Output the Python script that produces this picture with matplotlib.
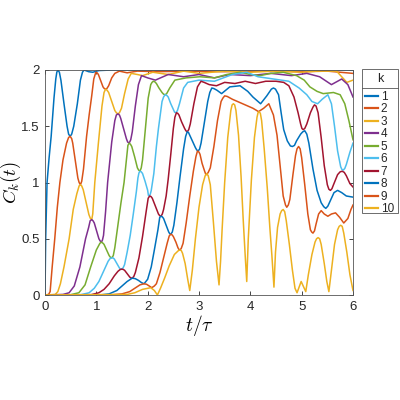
import matplotlib
matplotlib.use("Agg")
import matplotlib.pyplot as plt
from matplotlib.lines import Line2D
from matplotlib.patches import Rectangle

plt.rcParams["font.family"] = ["Liberation Sans", "DejaVu Sans"]
plt.rcParams["mathtext.fontset"] = "cm"

# values (t in units of tau)
t1 = [0, 0.013, 0.04, 0.08, 0.12, 0.175, 0.21, 0.25, 0.31, 0.37, 0.43, 0.49, 0.56, 0.63, 0.69, 0.76,
      0.85, 0.93, 1.05, 1.3, 2.0, 3.0, 4.0, 5.0, 6.0]
c1 = [0, 0.5, 1.0, 1.22, 1.41, 1.75, 1.92, 2.0, 1.91, 1.70, 1.50, 1.41, 1.50, 1.70, 1.91, 2.0,
      1.985, 1.98, 1.995, 2.0, 2.0, 2.0, 2.0, 2.0, 2.0]

t2 = [0, 0.07, 0.10, 0.14, 0.19, 0.24, 0.29, 0.35, 0.42, 0.49, 0.54, 0.59, 0.64, 0.69, 0.75, 0.81,
      0.86, 0.91, 0.95, 0.99, 1.04, 1.085, 1.13, 1.18, 1.24, 1.30, 1.36, 1.45, 1.6, 1.8, 2.2, 2.8,
      3.5, 4.2, 5.0, 5.5, 6.0]
c2 = [0, 0.005, 0.03, 0.25, 0.5, 0.78, 1.0, 1.2, 1.35, 1.41, 1.35, 1.195, 1.04, 0.98, 1.12, 1.41,
      1.60, 1.77, 1.92, 1.98, 1.96, 1.905, 1.85, 1.83, 1.86, 1.93, 1.97, 1.99, 1.975, 1.99, 1.985, 1.99,
      1.985, 1.99, 1.985, 1.99, 1.97]

t3 = [0, 0.2, 0.25, 0.30, 0.37, 0.47, 0.55, 0.62, 0.69, 0.745, 0.80, 0.855, 0.91, 0.93, 0.97, 1.04,
      1.11, 1.18, 1.24, 1.30, 1.36, 1.42, 1.49, 1.55, 1.62, 1.68, 1.8, 1.9, 2.1, 2.4, 2.7, 3.0,
      3.5, 4.0, 4.5, 5.0, 5.3, 5.5, 5.68, 5.78, 5.88, 6.0]
c3 = [0, 0.005, 0.03, 0.1, 0.25, 0.5, 0.76, 0.9, 0.98, 0.935, 0.825, 0.715, 0.67, 0.72, 1.0, 1.35,
      1.68, 1.83, 1.80, 1.72, 1.64, 1.61, 1.66, 1.79, 1.92, 1.97, 1.96, 1.95, 1.98, 1.96, 1.99, 1.97,
      1.99, 1.98, 1.99, 1.98, 1.99, 1.99, 1.99, 1.94, 1.89, 1.91]

t4 = [0, 0.35, 0.47, 0.57, 0.68, 0.79, 0.85, 0.91, 0.96, 1.005, 1.05, 1.10, 1.14, 1.18, 1.22, 1.30,
      1.36, 1.42, 1.475, 1.53, 1.585, 1.64, 1.70, 1.76, 1.82, 1.88, 2.0, 2.15, 2.4, 2.7, 3.0, 3.3,
      3.6, 4.0, 4.4, 4.8, 5.1, 5.35, 5.58, 5.78, 5.9, 6.0]
c4 = [0, 0.005, 0.02, 0.08, 0.25, 0.5, 0.6, 0.67, 0.64, 0.57, 0.50, 0.47, 0.53, 0.74, 1.0, 1.36,
      1.55, 1.61, 1.57, 1.48, 1.39, 1.35, 1.45, 1.68, 1.87, 1.95, 1.93, 1.91, 1.96, 1.94, 1.96, 1.93,
      1.96, 1.95, 1.97, 1.95, 1.97, 1.94, 1.87, 1.92, 1.87, 1.76]

t5 = [0, 0.5, 0.66, 0.78, 0.89, 1.0, 1.10, 1.15, 1.20, 1.25, 1.30, 1.36, 1.42, 1.48, 1.54, 1.59,
      1.64, 1.69, 1.745, 1.80, 1.85, 1.90, 1.95, 2.01, 2.06, 2.11, 2.17, 2.22, 2.28, 2.34, 2.43, 2.53,
      2.75, 3.02, 3.3, 3.54, 3.80, 4.0, 4.19, 4.4, 4.64, 4.90, 5.05, 5.16, 5.30, 5.42, 5.62, 5.75,
      5.84, 5.92, 6.0]
c5 = [0, 0.003, 0.02, 0.09, 0.25, 0.40, 0.47, 0.45, 0.40, 0.35, 0.33, 0.42, 0.62, 0.82, 1.0, 1.22,
      1.35, 1.32, 1.23, 1.13, 1.10, 1.20, 1.45, 1.75, 1.87, 1.90, 1.88, 1.84, 1.80, 1.78, 1.84, 1.91,
      1.93, 1.94, 1.93, 1.96, 1.98, 1.96, 1.95, 1.97, 1.98, 1.95, 1.91, 1.85, 1.81, 1.79, 1.80, 1.78,
      1.70, 1.55, 1.38]

t6 = [0, 0.7, 0.86, 0.96, 1.05, 1.15, 1.23, 1.30, 1.35, 1.40, 1.45, 1.49, 1.55, 1.60, 1.66, 1.72,
      1.78, 1.81, 1.85, 1.90, 1.95, 2.00, 2.03, 2.07, 2.12, 2.17, 2.21, 2.28, 2.34, 2.40, 2.45, 2.50,
      2.55, 2.62, 2.70, 2.78, 3.0, 3.3, 3.65, 3.93, 4.15, 4.45, 4.75, 4.95, 5.10, 5.20, 5.31, 5.40,
      5.51, 5.58, 5.64, 5.70, 5.76, 5.81, 5.87, 5.94, 6.0]
c6 = [0, 0.003, 0.02, 0.06, 0.12, 0.22, 0.30, 0.33, 0.32, 0.28, 0.24, 0.23, 0.27, 0.38, 0.53, 0.72,
      0.92, 1.04, 1.10, 1.08, 1.01, 0.93, 0.88, 0.93, 1.08, 1.32, 1.48, 1.72, 1.78, 1.76, 1.70, 1.65,
      1.62, 1.70, 1.84, 1.89, 1.91, 1.90, 1.96, 1.98, 1.94, 1.92, 1.90, 1.84, 1.78, 1.72, 1.70, 1.74,
      1.78, 1.70, 1.50, 1.28, 1.14, 1.11, 1.16, 1.27, 1.35]

t7 = [0, 0.9, 1.05, 1.15, 1.25, 1.35, 1.42, 1.49, 1.55, 1.60, 1.65, 1.70, 1.76, 1.83, 1.90, 1.97,
      2.04, 2.09, 2.15, 2.21, 2.26, 2.31, 2.36, 2.40, 2.45, 2.50, 2.56, 2.61, 2.66, 2.72, 2.77, 2.83,
      2.90, 2.97, 3.04, 3.2, 3.34, 3.5, 3.7, 3.9, 4.1, 4.3, 4.5, 4.65, 4.75, 4.85, 4.93, 4.98,
      5.03, 5.10, 5.17, 5.25, 5.32, 5.38, 5.44, 5.50, 5.56, 5.62, 5.70, 5.79, 5.87, 5.94, 6.0]
c7 = [0, 0.003, 0.02, 0.05, 0.10, 0.17, 0.21, 0.23, 0.22, 0.19, 0.16, 0.15, 0.20, 0.33, 0.52, 0.74,
      0.88, 0.86, 0.79, 0.72, 0.70, 0.76, 0.88, 1.03, 1.25, 1.48, 1.62, 1.60, 1.54, 1.48, 1.45, 1.52,
      1.70, 1.85, 1.90, 1.87, 1.86, 1.89, 1.88, 1.90, 1.88, 1.90, 1.90, 1.89, 1.86, 1.76, 1.62, 1.52,
      1.47, 1.52, 1.62, 1.69, 1.62, 1.40, 1.15, 0.98, 0.93, 0.98, 1.07, 1.10, 1.06, 0.99, 0.96]

t8 = [0, 1.1, 1.25, 1.4, 1.5, 1.6, 1.70, 1.76, 1.82, 1.88, 1.93, 2.00, 2.07, 2.13, 2.20, 2.26,
      2.31, 2.36, 2.41, 2.45, 2.51, 2.57, 2.63, 2.70, 2.77, 2.82, 2.87, 2.93, 2.98, 3.04, 3.10, 3.17,
      3.25, 3.35, 3.44, 3.52, 3.60, 3.8, 3.95, 4.05, 4.20, 4.32, 4.45, 4.55, 4.60, 4.65, 4.72, 4.82,
      4.90, 4.98, 5.06, 5.14, 5.22, 5.30, 5.38, 5.47, 5.55, 5.63, 5.70, 5.78, 5.87, 6.0]
c8 = [0, 0.002, 0.01, 0.04, 0.08, 0.12, 0.15, 0.145, 0.13, 0.11, 0.10, 0.14, 0.25, 0.40, 0.58, 0.70,
      0.68, 0.62, 0.56, 0.54, 0.62, 0.82, 1.05, 1.30, 1.45, 1.42, 1.37, 1.31, 1.28, 1.35, 1.52, 1.72,
      1.84, 1.82, 1.79, 1.82, 1.85, 1.86, 1.81, 1.76, 1.70, 1.77, 1.84, 1.78, 1.62, 1.47, 1.37, 1.32,
      1.37, 1.43, 1.46, 1.35, 1.12, 0.93, 0.82, 0.77, 0.83, 0.91, 0.93, 0.91, 0.88, 0.87]

t9 = [0, 1.3, 1.5, 1.65, 1.75, 1.85, 1.93, 1.98, 2.03, 2.08, 2.13, 2.17, 2.24, 2.31, 2.38, 2.45,
      2.50, 2.55, 2.59, 2.63, 2.69, 2.75, 2.82, 2.89, 2.97, 3.02, 3.06, 3.11, 3.15, 3.22, 3.29, 3.36,
      3.43, 3.50, 3.65, 3.80, 3.95, 4.05, 4.16, 4.26, 4.36, 4.45, 4.52, 4.58, 4.64, 4.71, 4.77, 4.83,
      4.88, 4.94, 5.00, 5.06, 5.12, 5.17, 5.22, 5.28, 5.33, 5.38, 5.44, 5.51, 5.58, 5.66, 5.74, 5.82,
      5.90, 5.96, 6.0]
c9 = [0, 0.002, 0.01, 0.03, 0.06, 0.09, 0.10, 0.095, 0.08, 0.065, 0.08, 0.10, 0.20, 0.33, 0.46, 0.54,
      0.52, 0.47, 0.42, 0.40, 0.46, 0.64, 0.88, 1.10, 1.28, 1.25, 1.17, 1.10, 1.07, 1.13, 1.32, 1.55,
      1.72, 1.77, 1.74, 1.71, 1.68, 1.66, 1.63, 1.66, 1.70, 1.60, 1.42, 1.15, 0.88, 0.78, 0.85, 1.07,
      1.24, 1.32, 1.22, 0.98, 0.72, 0.58, 0.55, 0.63, 0.72, 0.75, 0.72, 0.70, 0.72, 0.73, 0.69, 0.64,
      0.68, 0.76, 0.80]

t10 = [0, 1.6, 1.75, 1.9, 2.06, 2.13, 2.19, 2.25, 2.33, 2.42, 2.52, 2.63, 2.68, 2.73, 2.78, 2.82,
       2.87, 2.93, 3.00, 3.07, 3.15, 3.22, 3.28, 3.34, 3.39, 3.42, 3.45, 3.50, 3.56, 3.62, 3.67, 3.72,
       3.77, 3.82, 3.86, 3.90, 3.93, 3.96, 4.02, 4.08, 4.13, 4.17, 4.22, 4.27, 4.33, 4.38, 4.42, 4.46,
       4.49, 4.53, 4.58, 4.64, 4.70, 4.76, 4.82, 4.87, 4.91, 4.99, 5.08, 5.13, 5.20, 5.26, 5.32, 5.38,
       5.44, 5.49, 5.53, 5.58, 5.64, 5.70, 5.76, 5.82, 5.88, 5.94, 6.0]
c10 = [0, 0.005, 0.02, 0.05, 0.065, 0.04, 0.0, 0.06, 0.15, 0.26, 0.36, 0.40, 0.37, 0.28, 0.14, 0.04,
       0.22, 0.50, 0.78, 0.98, 1.08, 0.98, 0.65, 0.30, 0.09, 0.30, 0.58, 1.0, 1.40, 1.64, 1.70, 1.64,
       1.42, 1.05, 0.68, 0.35, 0.12, 0.50, 1.02, 1.40, 1.58, 1.63, 1.55, 1.30, 0.95, 0.60, 0.35, 0.07,
       0.38, 0.60, 0.72, 0.76, 0.66, 0.45, 0.22, 0.06, 0.02, 0.12, 0.03, 0.18, 0.36, 0.47, 0.51, 0.45,
       0.28, 0.12, 0.03, 0.22, 0.45, 0.58, 0.62, 0.55, 0.38, 0.18, 0.04]

# extra readings on the shoulders of the rounded peaks and dips, (t, C)
s1 = [(0.23, 1.98), (0.28, 1.98), (0.46, 1.43), (0.52, 1.43), (0.73, 1.98), (0.79, 1.995)]
s2 = [(0.46, 1.40), (0.52, 1.39), (0.665, 1.0), (0.715, 1.01), (1.015, 1.975), (1.155, 1.835),
      (1.205, 1.835)]
s3 = [(0.665, 0.97), (0.715, 0.97), (0.885, 0.68), (1.15, 1.80), (1.21, 1.82), (1.39, 1.62),
      (1.45, 1.62)]
s4 = [(0.88, 0.66), (0.935, 0.66), (1.075, 0.48), (1.12, 0.49), (1.39, 1.60), (1.45, 1.60),
      (1.61, 1.36), (1.67, 1.38)]
s5 = [(1.07, 0.46), (1.13, 0.46), (1.275, 0.335), (1.33, 0.35), (1.615, 1.33), (1.665, 1.34),
      (1.825, 1.11), (1.875, 1.13), (2.085, 1.89), (2.14, 1.895), (2.31, 1.785), (2.37, 1.79)]
s6 = [(1.27, 0.325), (1.325, 0.33), (1.47, 0.23), (1.52, 0.24), (1.83, 1.085), (1.875, 1.095),
      (2.015, 0.885), (2.05, 0.895), (2.31, 1.76), (2.37, 1.775), (2.525, 1.625), (2.58, 1.64),
      (5.785, 1.115), (5.84, 1.125)]
s7 = [(1.46, 0.225), (1.52, 0.228), (1.67, 0.152), (1.73, 0.165), (2.01, 0.86), (2.065, 0.875),
      (2.235, 0.705), (2.285, 0.72), (2.53, 1.58), (2.585, 1.615), (2.745, 1.46), (2.80, 1.47),
      (3.01, 1.88), (3.1, 1.89), (5.005, 1.48), (5.06, 1.48), (5.22, 1.67), (5.28, 1.68),
      (5.53, 0.94), (5.59, 0.945), (5.75, 1.095), (5.83, 1.09)]
s8 = [(2.235, 0.69), (2.285, 0.695), (2.43, 0.545), (2.48, 0.56), (2.74, 1.41), (2.795, 1.445),
      (2.955, 1.29), (3.01, 1.295), (3.21, 1.80), (3.29, 1.835), (4.41, 1.83), (4.49, 1.83),
      (4.78, 1.325), (4.86, 1.33), (5.02, 1.45), (5.10, 1.43), (5.43, 0.785), (5.51, 0.79)]
s9 = [(2.42, 0.525), (2.475, 0.535), (2.61, 0.405), (2.655, 0.415), (2.94, 1.23), (3.00, 1.27),
      (3.13, 1.075), (3.18, 1.09), (3.465, 1.75), (3.55, 1.765), (4.685, 0.80), (4.74, 0.80),
      (4.91, 1.30), (4.97, 1.30), (5.195, 0.56), (5.25, 0.57)]
s10 = [(2.60, 0.395), (2.655, 0.395), (3.12, 1.06), (3.18, 1.06), (3.645, 1.69), (3.695, 1.69),
       (4.15, 1.62), (4.195, 1.615), (4.61, 0.75), (4.67, 0.74), (5.29, 0.50), (5.35, 0.50),
       (5.73, 0.61), (5.79, 0.61)]

labels = ["1", "2", "3", "4", "5", "6", "7", "8", "9", "10"]
xticks = [0, 1, 2, 3, 4, 5, 6]
yticks = [0, 0.5, 1, 1.5, 2]
ytick_labels = ["0", "0.5", "1", "1.5", "2"]

# MATLAB default colour order
colors = ["#0072BD", "#D95319", "#EDB120", "#7E2F8E", "#77AC30", "#4DBEEE", "#A2142F"]

ts = [t1, t2, t3, t4, t5, t6, t7, t8, t9, t10]
cs = [c1, c2, c3, c4, c5, c6, c7, c8, c9, c10]
ss = [s1, s2, s3, s4, s5, s6, s7, s8, s9, s10]

fig = plt.figure(figsize=(4, 4), dpi=100)
ax = fig.add_axes([0.1125, 0.2625, 0.77, 0.5625])

handles = []
for i in range(10):
    col = colors[i % 7]
    pts = sorted(list(zip(ts[i], cs[i])) + ss[i])
    tt = [p[0] for p in pts]
    cc = [p[1] for p in pts]
    ax.plot(tt, cc, color=col, lw=1.1, solid_joinstyle="round")
    handles.append(Line2D([0], [0], color=col, lw=1.6))

ax.set_xlim(0, 6)
ax.set_ylim(0, 2)
ax.set_xticks(xticks)
ax.set_yticks(yticks)
ax.set_yticklabels(ytick_labels)
ax.tick_params(direction="in", length=3, width=0.6, top=True, right=True,
               labelsize=9.5, colors="#262626", pad=4)
for s in ax.spines.values():
    s.set_color("#555555")
    s.set_linewidth(0.6)

ax.set_xlabel(r"$t/\tau$", fontsize=14, labelpad=0)
ax.set_ylabel(r"$C_k(t)$", fontsize=13.5)
ax.yaxis.set_label_coords(-0.07, 0.5)

# legend: outer box, title "k", separator, then the entries
def fx(px):
    return px / 400

def fy(py):
    return 1 - py / 400

fig.add_artist(Rectangle((fx(362), fy(213)), fx(398) - fx(362), fy(69) - fy(213),
                         transform=fig.transFigure, fill=True, facecolor="white",
                         edgecolor="#555555", lw=0.6, zorder=-1))
fig.text(fx(380), fy(79), "k", ha="center", va="center", fontsize=9, color="#262626")
fig.add_artist(Line2D([fx(362), fx(398)], [fy(87.5), fy(87.5)],
                      transform=fig.transFigure, color="#555555", lw=0.6))

leg = ax.legend(handles, labels, loc="upper left",
                bbox_to_anchor=(fx(362.5), fy(88.5)), bbox_transform=fig.transFigure,
                fontsize=8.5, frameon=False, handlelength=1.1, handletextpad=0.25,
                labelspacing=0.04, borderpad=0.2, borderaxespad=0)
for txt in leg.get_texts():
    txt.set_color("#262626")

fig.savefig("out.png", dpi=100)
